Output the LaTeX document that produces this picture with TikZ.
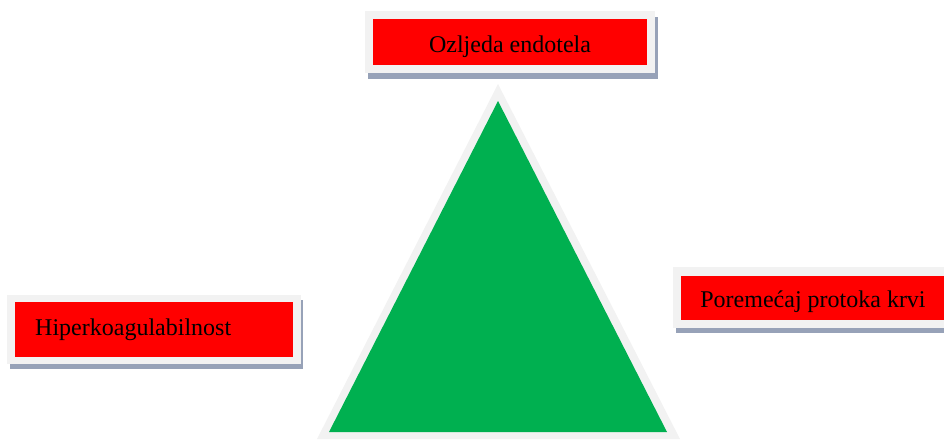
\documentclass[tikz,border=0pt]{standalone}
\usepackage{fontspec}
\setmainfont{Liberation Serif}
\definecolor{boxred}{HTML}{FF0000}
\definecolor{frame}{HTML}{F2F2F2}
\definecolor{shadowc}{HTML}{97A2B8}
\definecolor{trigreen}{HTML}{00B050}
\begin{document}
\begin{tikzpicture}[x=1pt,y=-1pt,
  redbox/.style={fill=boxred, inner sep=0pt},
  lbl/.style={inner sep=0pt, font=\fontsize{24}{28}\selectfont, text=black}]
\useasboundingbox (0,0) rectangle (944,439);
\clip (0,0) rectangle (944,439);
% top box
\fill[shadowc] (368,17) rectangle (658,79);
\fill[frame] (365,11) rectangle (655,73);
\node[redbox, minimum width=274pt, minimum height=46pt] (topbox) at (510,42) {};
\node[lbl, anchor=base] (toptext) at (510,52) {Ozljeda endotela};
% left box
\fill[shadowc] (10,300) rectangle (303,369);
\fill[frame] (7,295) rectangle (301,364);
\node[redbox, minimum width=278pt, minimum height=55pt] (leftbox) at (154,329.5) {};
\node[lbl, anchor=base west] (lefttext) at (35,335) {Hiperkoagulabilnost};
% right box
\fill[shadowc] (676,272) rectangle (960,333);
\fill[frame] (673,267) rectangle (960,328);
\node[redbox, minimum width=280pt, minimum height=44pt] (rightbox) at (821,298) {};
\node[lbl, anchor=base] (righttext) at (813,307) {Poremećaj protoka krvi};
% triangle
\coordinate (oa) at (498,84);
\coordinate (ob) at (317,439);
\coordinate (oc) at (680,439);
\coordinate (ga) at (498,101);
\coordinate (gb) at (329,432);
\coordinate (gc) at (667,432);
\fill[frame] (oa) -- (ob) -- (oc) -- cycle;
\fill[trigreen] (ga) -- (gb) -- (gc) -- cycle;
\end{tikzpicture}
\end{document}
